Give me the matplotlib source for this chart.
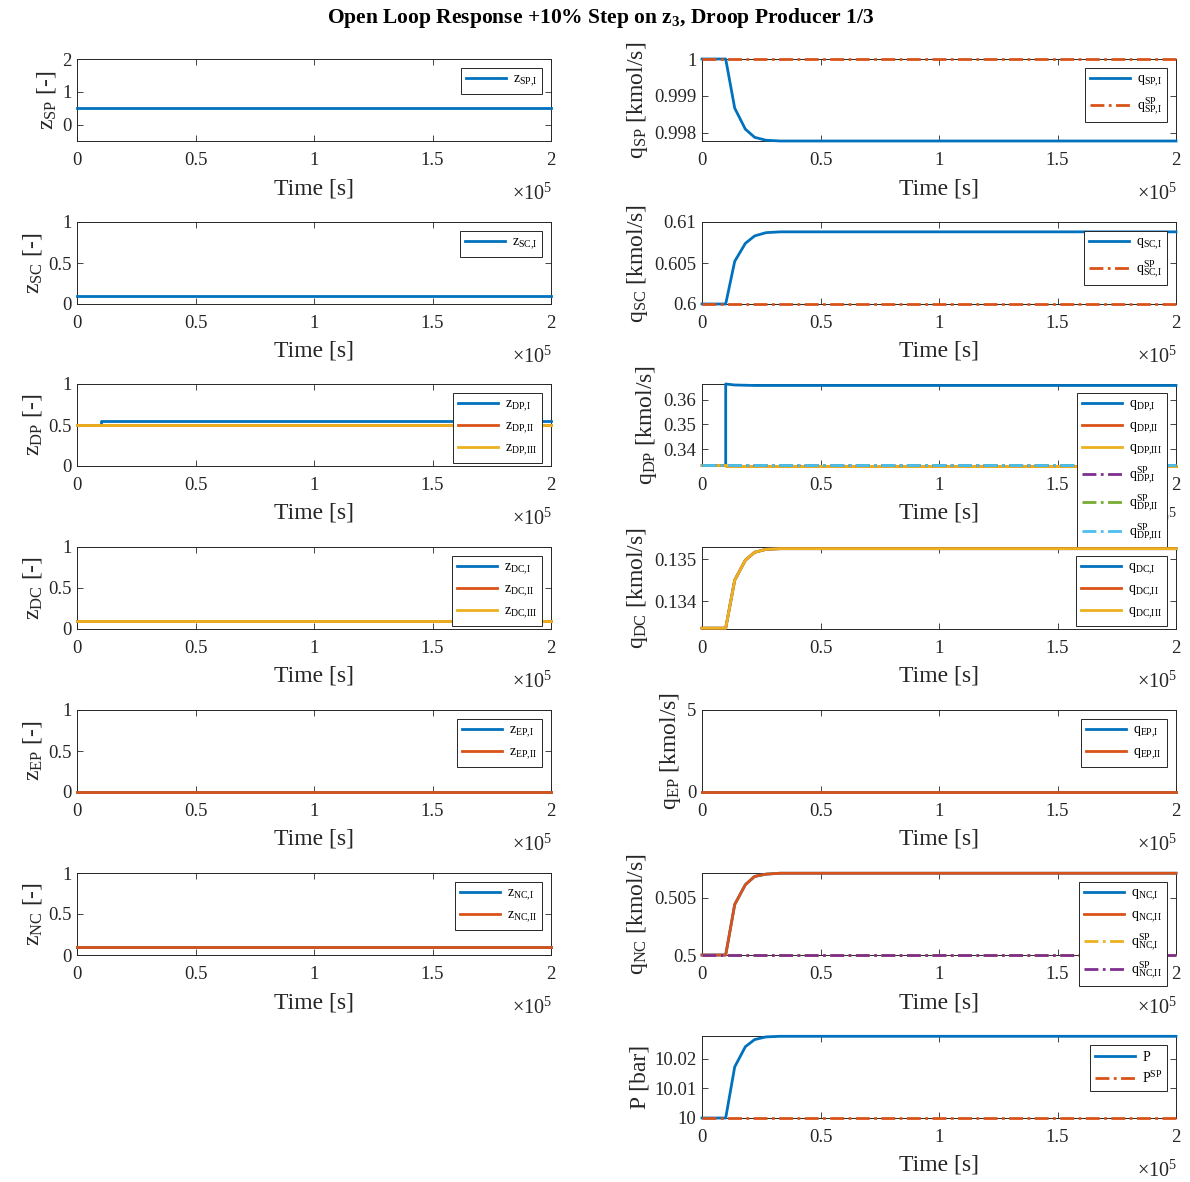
import matplotlib
matplotlib.use("Agg")
import matplotlib.pyplot as plt

plt.rcParams.update({
    "font.family": ["Liberation Serif", "DejaVu Serif"],
    "mathtext.fontset": "custom",
    "mathtext.rm": "Liberation Serif",
    "mathtext.it": "Liberation Serif:italic",
    "mathtext.bf": "Liberation Serif:bold",
    "mathtext.default": "rm",
})

# ---------------- data ----------------
# simulation time grid [s]
t_full = [0, 200000]
t_step = [0, 5000, 10000, 13800, 18300, 22200, 27000, 33000, 200000]
t_jump = [0, 10000, 10000, 13800, 22200, 200000]

# compositions
z_sp_I = [0.5, 0.5]
z_sc_I = [0.1, 0.1]
z_dp_I = [0.5, 0.5, 0.55, 0.55, 0.55, 0.55]
z_dp_II = [0.5, 0.5]
z_dp_III = [0.5, 0.5]
z_dc_I = [0.1, 0.1]
z_dc_II = [0.1, 0.1]
z_dc_III = [0.1, 0.1]
z_ep_I = [0.0, 0.0]
z_ep_II = [0.0, 0.0]
z_nc_I = [0.1, 0.1]
z_nc_II = [0.1, 0.1]

# flows [kmol/s]
q_sp_I = [1.0, 1.0, 1.0, 0.99867, 0.99810, 0.99788, 0.99780, 0.99778, 0.99778]
q_sp_I_sp = [1.0, 1.0]
q_sc_I = [0.6, 0.6, 0.6, 0.6052, 0.6074, 0.6083, 0.6087, 0.6088, 0.6088]
q_sc_I_sp = [0.6, 0.6]
q_dp_I = [0.33333, 0.33333, 0.3664, 0.3660, 0.3658, 0.3658]
q_dp_II = [0.33333, 0.33333, 0.3331, 0.3331, 0.3331, 0.3331]
q_dp_III = [0.33333, 0.33333, 0.3331, 0.3331, 0.3331, 0.3331]
q_dp_I_sp = [0.33333, 0.33333]
q_dp_II_sp = [0.33333, 0.33333]
q_dp_III_sp = [0.33333, 0.33333]
q_dc = [0.13335, 0.13335, 0.13335, 0.134504, 0.134984, 0.135173, 0.135244, 0.13526, 0.13526]
q_ep_I = [0.0, 0.0]
q_ep_II = [0.0, 0.0]
q_nc = [0.5, 0.5, 0.5, 0.50442, 0.50616, 0.50688, 0.50708, 0.50716, 0.50716]
q_nc_I_sp = [0.5, 0.5]
q_nc_II_sp = [0.5, 0.5]

# pressure [bar]
p_val = [10.0, 10.0, 10.0, 10.0172, 10.0240, 10.0264, 10.0273, 10.0275, 10.0275]
p_sp = [10.0, 10.0]

# axis ticks
x_ticks = [0, 50000, 100000, 150000, 200000]
x_tick_labels = ["0", "0.5", "1", "1.5", "2"]

# ---------------- styling ----------------
C1, C2, C3, C4, C5, C6 = "#0072BD", "#D95319", "#EDB120", "#7E2F8E", "#77AC30", "#4DBEEE"
LW = 2.0
DASHDOT = (0, (5, 1.6, 1.0, 1.6))
TICK_FS = 13.5
LABEL_FS = 17
LEG_FS = 10
AX_COLOR = "#262626"

W, H = 1190, 1182
fig = plt.figure(figsize=(W / 100, H / 100), dpi=100)

COL_X = [77, 702]
ROW_Y = [59, 222, 384, 547, 710, 873, 1036]
AX_W, AX_H = 474, 82


def make_ax(col, row):
    ax = fig.add_axes([COL_X[col] / W, 1 - (ROW_Y[row] + AX_H) / H, AX_W / W, AX_H / H])
    ax.set_xlim(0, 200000)
    ax.set_xticks(x_ticks, x_tick_labels)
    ax.tick_params(direction="in", length=4, width=0.6, top=True, right=True,
                   labelsize=TICK_FS, colors=AX_COLOR, labelcolor="#262626", pad=4)
    ax.tick_params(axis="x", pad=8)
    for s in ax.spines.values():
        s.set_color(AX_COLOR)
        s.set_linewidth(0.7)
    ax.set_xlabel("Time [s]", fontsize=LABEL_FS, color="#262626")
    ax.xaxis.set_label_coords(0.5, -37 / AX_H)
    ax.annotate(r"$\times$10$^{5}$", xy=(1, 0), xycoords="axes fraction",
                xytext=(1, -53), textcoords="offset pixels",
                ha="right", va="center", fontsize=14.5, color="#262626")
    return ax


def line(ax, t, y, color, label, dashed=False):
    ax.plot(t, y, color=color, lw=LW, ls=DASHDOT if dashed else "-",
            label=label, clip_on=False, zorder=3)


def finish(ax, yticks, ylabels, ylim, ylabel):
    ax.set_ylim(*ylim)
    ax.set_yticks(yticks, ylabels)
    ax.set_ylabel(ylabel, fontsize=LABEL_FS, color="#262626", labelpad=3)
    leg = ax.legend(loc="upper right", fontsize=LEG_FS, frameon=True, fancybox=False,
                    framealpha=1, edgecolor="#262626", handlelength=2.9,
                    handletextpad=0.5, labelspacing=0.46, borderpad=0.35,
                    borderaxespad=0.65)
    leg.get_frame().set_linewidth(0.7)
    leg.set_zorder(10)


# ---------------- left column: compositions ----------------
ax = make_ax(0, 0)
line(ax, t_full, z_sp_I, C1, r"$z_{SP{,}I}$")
finish(ax, [0, 1, 2], ["0", "1", "2"], (-0.5, 2), r"$z_{SP}$ [-]")

ax = make_ax(0, 1)
line(ax, t_full, z_sc_I, C1, r"$z_{SC{,}I}$")
finish(ax, [0, 0.5, 1], ["0", "0.5", "1"], (0, 1), r"$z_{SC}$ [-]")

ax = make_ax(0, 2)
line(ax, t_jump, z_dp_I, C1, r"$z_{DP{,}I}$")
line(ax, t_full, z_dp_II, C2, r"$z_{DP{,}II}$")
line(ax, t_full, z_dp_III, C3, r"$z_{DP{,}III}$")
finish(ax, [0, 0.5, 1], ["0", "0.5", "1"], (0, 1), r"$z_{DP}$ [-]")

ax = make_ax(0, 3)
line(ax, t_full, z_dc_I, C1, r"$z_{DC{,}I}$")
line(ax, t_full, z_dc_II, C2, r"$z_{DC{,}II}$")
line(ax, t_full, z_dc_III, C3, r"$z_{DC{,}III}$")
finish(ax, [0, 0.5, 1], ["0", "0.5", "1"], (0, 1), r"$z_{DC}$ [-]")

ax = make_ax(0, 4)
line(ax, t_full, z_ep_I, C1, r"$z_{EP{,}I}$")
line(ax, t_full, z_ep_II, C2, r"$z_{EP{,}II}$")
finish(ax, [0, 0.5, 1], ["0", "0.5", "1"], (0, 1), r"$z_{EP}$ [-]")

ax = make_ax(0, 5)
line(ax, t_full, z_nc_I, C1, r"$z_{NC{,}I}$")
line(ax, t_full, z_nc_II, C2, r"$z_{NC{,}II}$")
finish(ax, [0, 0.5, 1], ["0", "0.5", "1"], (0, 1), r"$z_{NC}$ [-]")

# ---------------- right column: flows and pressure ----------------
ax = make_ax(1, 0)
line(ax, t_step, q_sp_I, C1, r"$q_{SP{,}I}$")
line(ax, t_full, q_sp_I_sp, C2, r"$q_{SP{,}I}^{SP}$", dashed=True)
finish(ax, [0.998, 0.999, 1.0], ["0.998", "0.999", "1"], (0.99778, 1.0),
       r"$q_{SP}$ [kmol/s]")

ax = make_ax(1, 1)
line(ax, t_step, q_sc_I, C1, r"$q_{SC{,}I}$")
line(ax, t_full, q_sc_I_sp, C2, r"$q_{SC{,}I}^{SP}$", dashed=True)
finish(ax, [0.6, 0.605, 0.61], ["0.6", "0.605", "0.61"], (0.6, 0.61),
       r"$q_{SC}$ [kmol/s]")

ax = make_ax(1, 2)
line(ax, t_jump, q_dp_I, C1, r"$q_{DP{,}I}$")
line(ax, t_jump, q_dp_II, C2, r"$q_{DP{,}II}$")
line(ax, t_jump, q_dp_III, C3, r"$q_{DP{,}III}$")
line(ax, t_full, q_dp_I_sp, C4, r"$q_{DP{,}I}^{SP}$", dashed=True)
line(ax, t_full, q_dp_II_sp, C5, r"$q_{DP{,}II}^{SP}$", dashed=True)
line(ax, t_full, q_dp_III_sp, C6, r"$q_{DP{,}III}^{SP}$", dashed=True)
finish(ax, [0.34, 0.35, 0.36], ["0.34", "0.35", "0.36"], (0.3331, 0.3664),
       r"$q_{DP}$ [kmol/s]")

ax = make_ax(1, 3)
line(ax, t_step, q_dc, C1, r"$q_{DC{,}I}$")
line(ax, t_step, q_dc, C2, r"$q_{DC{,}II}$")
line(ax, t_step, q_dc, C3, r"$q_{DC{,}III}$")
finish(ax, [0.134, 0.135], ["0.134", "0.135"], (0.13333, 0.1353),
       r"$q_{DC}$ [kmol/s]")

ax = make_ax(1, 4)
line(ax, t_full, q_ep_I, C1, r"$q_{EP{,}I}$")
line(ax, t_full, q_ep_II, C2, r"$q_{EP{,}II}$")
finish(ax, [0, 5], ["0", "5"], (0, 5), r"$q_{EP}$ [kmol/s]")

ax = make_ax(1, 5)
line(ax, t_step, q_nc, C1, r"$q_{NC{,}I}$")
line(ax, t_step, q_nc, C2, r"$q_{NC{,}II}$")
line(ax, t_full, q_nc_I_sp, C3, r"$q_{NC{,}I}^{SP}$", dashed=True)
line(ax, t_full, q_nc_II_sp, C4, r"$q_{NC{,}II}^{SP}$", dashed=True)
finish(ax, [0.5, 0.505], ["0.5", "0.505"], (0.5, 0.50718),
       r"$q_{NC}$ [kmol/s]")

ax = make_ax(1, 6)
line(ax, t_step, p_val, C1, r"$P$")
line(ax, t_full, p_sp, C2, r"$P^{SP}$", dashed=True)
finish(ax, [10.0, 10.01, 10.02], ["10", "10.01", "10.02"], (10.0, 10.0276),
       r"P [bar]")

fig.text(601 / W, 1 - 18 / H,
         r"Open Loop Response +10% Step on $\mathbf{z_3}$, Droop Producer 1/3",
         ha="center", va="center", fontsize=15.5, fontweight="bold")

fig.savefig("out.png", dpi=100)
